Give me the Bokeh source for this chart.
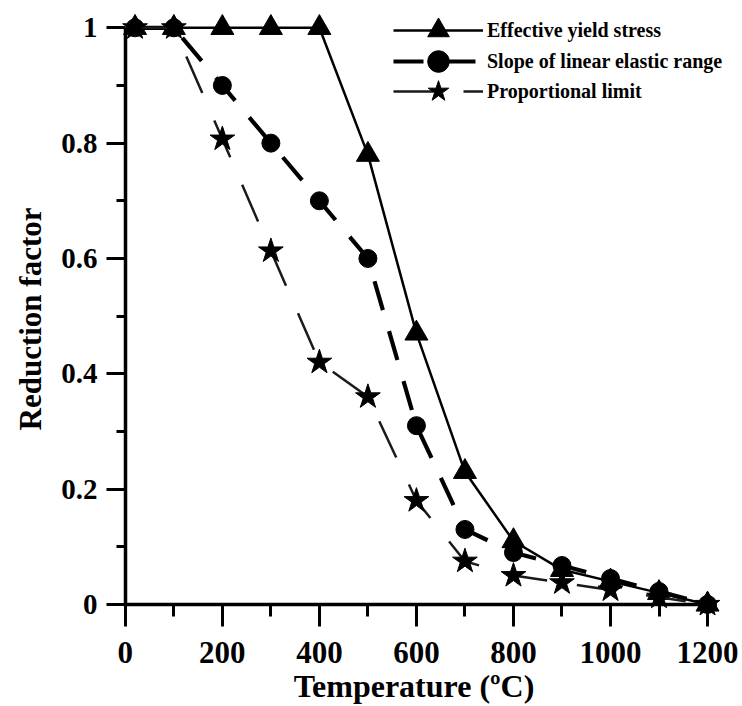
from bokeh.plotting import figure
from bokeh.models import FixedTicker, Range1d, Legend, LegendItem, LinearAxis
from bokeh.embed import file_html
from bokeh.resources import INLINE

# ---- data ----
temperature = [20, 100, 200, 300, 400, 500, 600, 700, 800, 900, 1000, 1100, 1200]
effective_yield = [1.0, 1.0, 1.0, 1.0, 1.0, 0.78, 0.47, 0.23, 0.11, 0.06, 0.04, 0.02, 0.0]
slope_elastic = [1.0, 1.0, 0.9, 0.8, 0.7, 0.6, 0.31, 0.13, 0.09, 0.0675, 0.045, 0.0225, 0.0]
proportional = [1.0, 1.0, 0.807, 0.613, 0.42, 0.36, 0.18, 0.075, 0.05, 0.0375, 0.025, 0.0125, 0.0]

x_ticks = [0, 200, 400, 600, 800, 1000, 1200]
x_minor = [100, 300, 500, 700, 900, 1100]
y_ticks = [0, 0.2, 0.4, 0.6, 0.8, 1]
y_tick_labels = ["0", "0.2", "0.4", "0.6", "0.8", "1"]
y_minor = [0.1, 0.3, 0.5, 0.7, 0.9]

series_names = ["Effective yield stress", "Slope of linear elastic range", "Proportional limit"]
x_title = "Temperature (\u00baC)"
y_title = "Reduction factor"

FONT = "Liberation Serif"

p = figure(width=742, height=706, output_backend="svg", toolbar_location=None,
           x_range=Range1d(-45, 1235), y_range=Range1d(-0.04, 1.03))
p.min_border_left = 103
p.min_border_right = 18
p.min_border_top = 10
p.min_border_bottom = 78
p.outline_line_color = None
p.xgrid.visible = False
p.ygrid.visible = False
p.background_fill_color = "white"
p.border_fill_color = "white"

# lines and markers
r1l = p.line(temperature, effective_yield, line_color="black", line_width=2.5)
r1m = p.scatter(temperature, effective_yield, marker="triangle", size=23,
                fill_color="black", line_color="black")
r2l = p.line(temperature, slope_elastic, line_color="black", line_width=4.2,
             line_dash="30 22")
r2m = p.scatter(temperature, slope_elastic, marker="circle", size=18,
                fill_color="black", line_color="black")
r3l = p.line(temperature, proportional, line_color="#1a1a1a", line_width=2.5,
             line_dash="40 30")
r3m = p.scatter(temperature, proportional, marker="star", size=26,
                fill_color="black", line_color="black")

# axis lines + ticks, crossing at (0, 0)
for ax in p.xaxis:
    ax.fixed_location = 0
    ax.bounds = (0, 1200)
    ax.ticker = FixedTicker(ticks=x_ticks, minor_ticks=x_minor)
    ax.major_label_text_color = None
    ax.axis_line_width = 3.5
    ax.major_tick_line_width = 3
    ax.minor_tick_line_width = 3
    ax.major_tick_out = 22
    ax.major_tick_in = 0
    ax.minor_tick_out = 12
    ax.minor_tick_in = 0

for ax in p.yaxis:
    ax.fixed_location = 0
    ax.bounds = (0, 1)
    ax.ticker = FixedTicker(ticks=y_ticks, minor_ticks=y_minor)
    ax.major_label_text_color = None
    ax.axis_line_width = 3.5
    ax.major_tick_line_width = 3
    ax.minor_tick_line_width = 3
    ax.major_tick_out = 19
    ax.major_tick_in = 0
    ax.minor_tick_out = 9
    ax.minor_tick_in = 0

# label-only axes at the frame edges (not clipped)
xlab = LinearAxis(ticker=FixedTicker(ticks=x_ticks, minor_ticks=[]))
xlab.axis_line_color = None
xlab.major_tick_line_color = None
xlab.minor_tick_line_color = None
xlab.major_tick_out = 0
xlab.major_tick_in = 0
xlab.major_label_standoff = 14
xlab.major_label_text_font = FONT
xlab.major_label_text_font_style = "bold"
xlab.major_label_text_font_size = "31px"
xlab.major_label_text_color = "black"
xlab.axis_label = x_title
xlab.axis_label_text_font = FONT
xlab.axis_label_text_font_style = "bold"
xlab.axis_label_text_font_size = "32px"
xlab.axis_label_text_color = "black"
xlab.axis_label_standoff = 2
p.add_layout(xlab, "below")

ylab = LinearAxis(ticker=FixedTicker(ticks=y_ticks, minor_ticks=[]))
ylab.major_label_overrides = {t: s for t, s in zip(y_ticks, y_tick_labels)}
ylab.axis_line_color = None
ylab.major_tick_line_color = None
ylab.minor_tick_line_color = None
ylab.major_tick_out = 0
ylab.major_tick_in = 0
ylab.major_label_standoff = 6
ylab.major_label_text_font = FONT
ylab.major_label_text_font_style = "bold"
ylab.major_label_text_font_size = "29px"
ylab.major_label_text_color = "black"
ylab.axis_label = y_title
ylab.axis_label_text_font = FONT
ylab.axis_label_text_font_style = "bold"
ylab.axis_label_text_font_size = "31px"
ylab.axis_label_text_color = "black"
ylab.axis_label_standoff = 10
p.add_layout(ylab, "left")

# legend: one box per row so that markers can be large while rows stay close
legend_rows = [(series_names[0], [r1l, r1m], 570),
               (series_names[1], [r2l, r2m], 539),
               (series_names[2], [r3l, r3m], 509)]
for name, rends, ypos in legend_rows:
    lg = Legend(items=[LegendItem(label=name, renderers=rends)], location=(290, ypos))
    lg.border_line_color = None
    lg.background_fill_alpha = 0
    lg.margin = 0
    lg.padding = 0
    lg.glyph_width = 90
    lg.glyph_height = 54
    lg.label_height = 24
    lg.label_standoff = 4
    lg.label_text_font = FONT
    lg.label_text_font_style = "bold"
    lg.label_text_font_size = "20px"
    lg.label_text_color = "black"
    p.add_layout(lg)

open("out.html", "w").write(file_html(p, INLINE))
